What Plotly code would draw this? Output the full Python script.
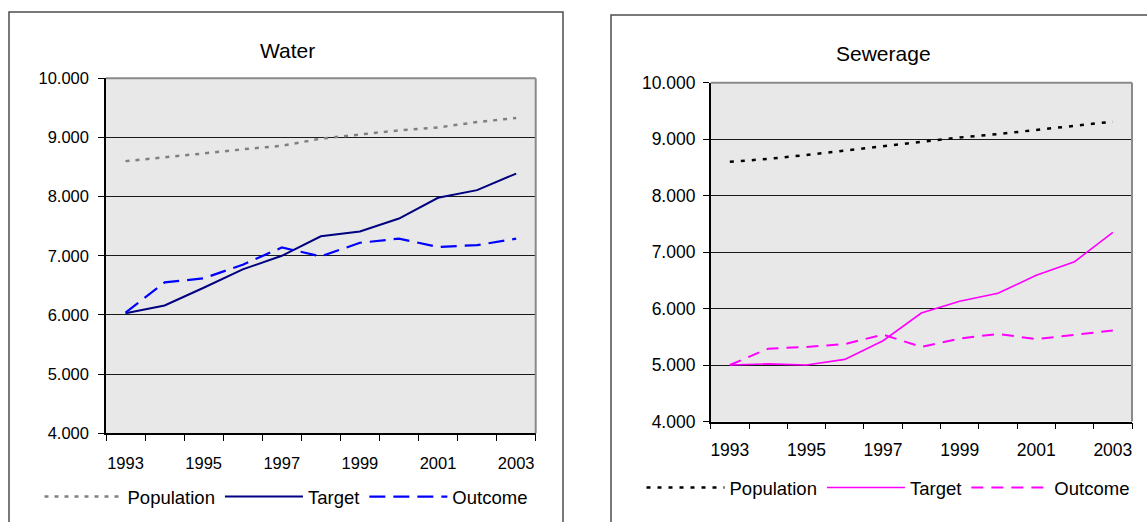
import plotly.graph_objects as go

# ---------------- data ----------------
years = [1993, 1994, 1995, 1996, 1997, 1998, 1999, 2000, 2001, 2002, 2003]
x_label_years = [1993, 1995, 1997, 1999, 2001, 2003]

water_population = [8.60, 8.66, 8.73, 8.80, 8.86, 8.98, 9.05, 9.12, 9.17, 9.26, 9.33]
water_target = [6.03, 6.16, 6.46, 6.77, 7.00, 7.33, 7.41, 7.63, 7.98, 8.11, 8.39]
water_outcome = [6.04, 6.55, 6.62, 6.85, 7.14, 6.99, 7.22, 7.29, 7.15, 7.18, 7.29]

sewerage_population = [8.60, 8.65, 8.72, 8.80, 8.87, 8.96, 9.03, 9.09, 9.16, 9.24, 9.31]
sewerage_target = [5.00, 5.02, 5.00, 5.10, 5.43, 5.92, 6.13, 6.27, 6.59, 6.83, 7.35]
sewerage_outcome = [5.00, 5.29, 5.32, 5.37, 5.54, 5.32, 5.47, 5.55, 5.46, 5.54, 5.61]

y_tick_values = [4, 5, 6, 7, 8, 9, 10]
y_tick_labels = ["4.000", "5.000", "6.000", "7.000", "8.000", "9.000", "10.000"]

series_names = ["Population", "Target", "Outcome"]
chart_titles = ["Water", "Sewerage"]

# ---------------- figure ----------------
W, H = 1147, 522
FONT = "Liberation Sans, Arial, sans-serif"


def px_x(p):
    return p / W


def px_y(p):
    return 1 - p / H


fig = go.Figure()

# Water
fig.add_trace(go.Scatter(x=years, y=water_population, name=series_names[0], mode="lines",
                         line=dict(color="#808080", width=2.5, dash="4px,6px"),
                         xaxis="x", yaxis="y", legend="legend"))
fig.add_trace(go.Scatter(x=years, y=water_target, name=series_names[1], mode="lines",
                         line=dict(color="#000080", width=2),
                         xaxis="x", yaxis="y", legend="legend"))
fig.add_trace(go.Scatter(x=years, y=water_outcome, name=series_names[2], mode="lines",
                         line=dict(color="#0000FF", width=2.2, dash="16px,8px"),
                         xaxis="x", yaxis="y", legend="legend"))

# Sewerage
fig.add_trace(go.Scatter(x=years, y=sewerage_population, name=series_names[0], mode="lines",
                         line=dict(color="#000000", width=2.5, dash="4px,7px"),
                         xaxis="x2", yaxis="y2", legend="legend2"))
fig.add_trace(go.Scatter(x=years, y=sewerage_target, name=series_names[1], mode="lines",
                         line=dict(color="#FF00FF", width=1.6),
                         xaxis="x2", yaxis="y2", legend="legend2"))
fig.add_trace(go.Scatter(x=years, y=sewerage_outcome, name=series_names[2], mode="lines",
                         line=dict(color="#FF00FF", width=2, dash="12px,8px"),
                         xaxis="x2", yaxis="y2", legend="legend2"))

boundaries = [y - 0.5 for y in years] + [years[-1] + 0.5]
x_range = [years[0] - 0.5, years[-1] + 0.5]


def xaxis_cfg(domain, fsize, standoff):
    return dict(domain=domain, range=x_range, tickmode="array", tickvals=x_label_years,
                ticks="", showgrid=False, zeroline=False, showline=True,
                linecolor="#000000", linewidth=1.5, ticklabelstandoff=standoff,
                tickfont=dict(family=FONT, size=fsize, color="#000000"),
                minor=dict(tickmode="array", tickvals=boundaries, ticks="outside",
                           ticklen=6, tickwidth=1.2, tickcolor="#000000", showgrid=False),
                automargin=False, fixedrange=True)


def yaxis_cfg(domain, anchor, fsize, standoff):
    return dict(domain=domain, anchor=anchor, range=[4, 10], tickmode="array",
                tickvals=y_tick_values, ticktext=y_tick_labels, ticks="outside",
                ticklen=6, tickwidth=1.2, tickcolor="#000000", showgrid=True,
                gridcolor="#1a1a1a", gridwidth=1, zeroline=False, showline=True,
                linecolor="#000000", linewidth=1.5, ticklabelstandoff=standoff,
                tickfont=dict(family=FONT, size=fsize, color="#000000"),
                automargin=False, fixedrange=True)


fig.update_layout(
    width=W, height=H,
    margin=dict(l=0, r=0, t=0, b=0, autoexpand=False),
    paper_bgcolor="#FFFFFF",
    plot_bgcolor="#E8E8E8",
    font=dict(family=FONT, color="#000000"),
    xaxis=xaxis_cfg([px_x(106), px_x(535.7)], 16.5, 14),
    yaxis=yaxis_cfg([px_y(433.3), px_y(78.3)], "x", 16.5, 6),
    xaxis2=dict(xaxis_cfg([px_x(710.7), px_x(1132)], 17.5, 12), anchor="y2"),
    yaxis2=yaxis_cfg([px_y(421.5), px_y(82.7)], "x2", 17.5, 4),
    legend=dict(orientation="h", x=px_x(286), y=px_y(497), xanchor="center", yanchor="middle",
                font=dict(family=FONT, size=18.5, color="#000000"), itemwidth=78,
                bgcolor="rgba(0,0,0,0)", tracegroupgap=0),
    legend2=dict(orientation="h", x=px_x(888), y=px_y(488), xanchor="center", yanchor="middle",
                 font=dict(family=FONT, size=18.5, color="#000000"), itemwidth=78,
                 bgcolor="rgba(0,0,0,0)", tracegroupgap=0),
    showlegend=True,
)

# chart titles
fig.add_annotation(text=chart_titles[0], x=px_x(287), y=px_y(50.5), xref="paper", yref="paper",
                   showarrow=False, xanchor="center", yanchor="middle",
                   font=dict(family=FONT, size=21, color="#000000"))
fig.add_annotation(text=chart_titles[1], x=px_x(883), y=px_y(53.5), xref="paper", yref="paper",
                   showarrow=False, xanchor="center", yanchor="middle",
                   font=dict(family=FONT, size=21, color="#000000"))

# outer chart frames
fig.add_shape(type="rect", xref="paper", yref="paper", x0=px_x(9), x1=px_x(563),
              y0=-0.1, y1=px_y(12), line=dict(color="#4d4d4d", width=1.5), layer="below")
fig.add_shape(type="rect", xref="paper", yref="paper", x0=px_x(611), x1=1.05,
              y0=-0.1, y1=px_y(15), line=dict(color="#4d4d4d", width=1.5), layer="below")

# grey plot-area border (top and right)
for xr, yr in (("x domain", "y domain"), ("x2 domain", "y2 domain")):
    fig.add_shape(type="line", xref=xr, yref=yr, x0=0, x1=1, y0=1, y1=1,
                  line=dict(color="#8a8a8a", width=2), layer="above")
    fig.add_shape(type="line", xref=xr, yref=yr, x0=1, x1=1, y0=0, y1=1,
                  line=dict(color="#8a8a8a", width=2), layer="above")

fig.write_html("out.html", config={"displayModeBar": False},
               post_script="document.body.style.margin='0px';")
